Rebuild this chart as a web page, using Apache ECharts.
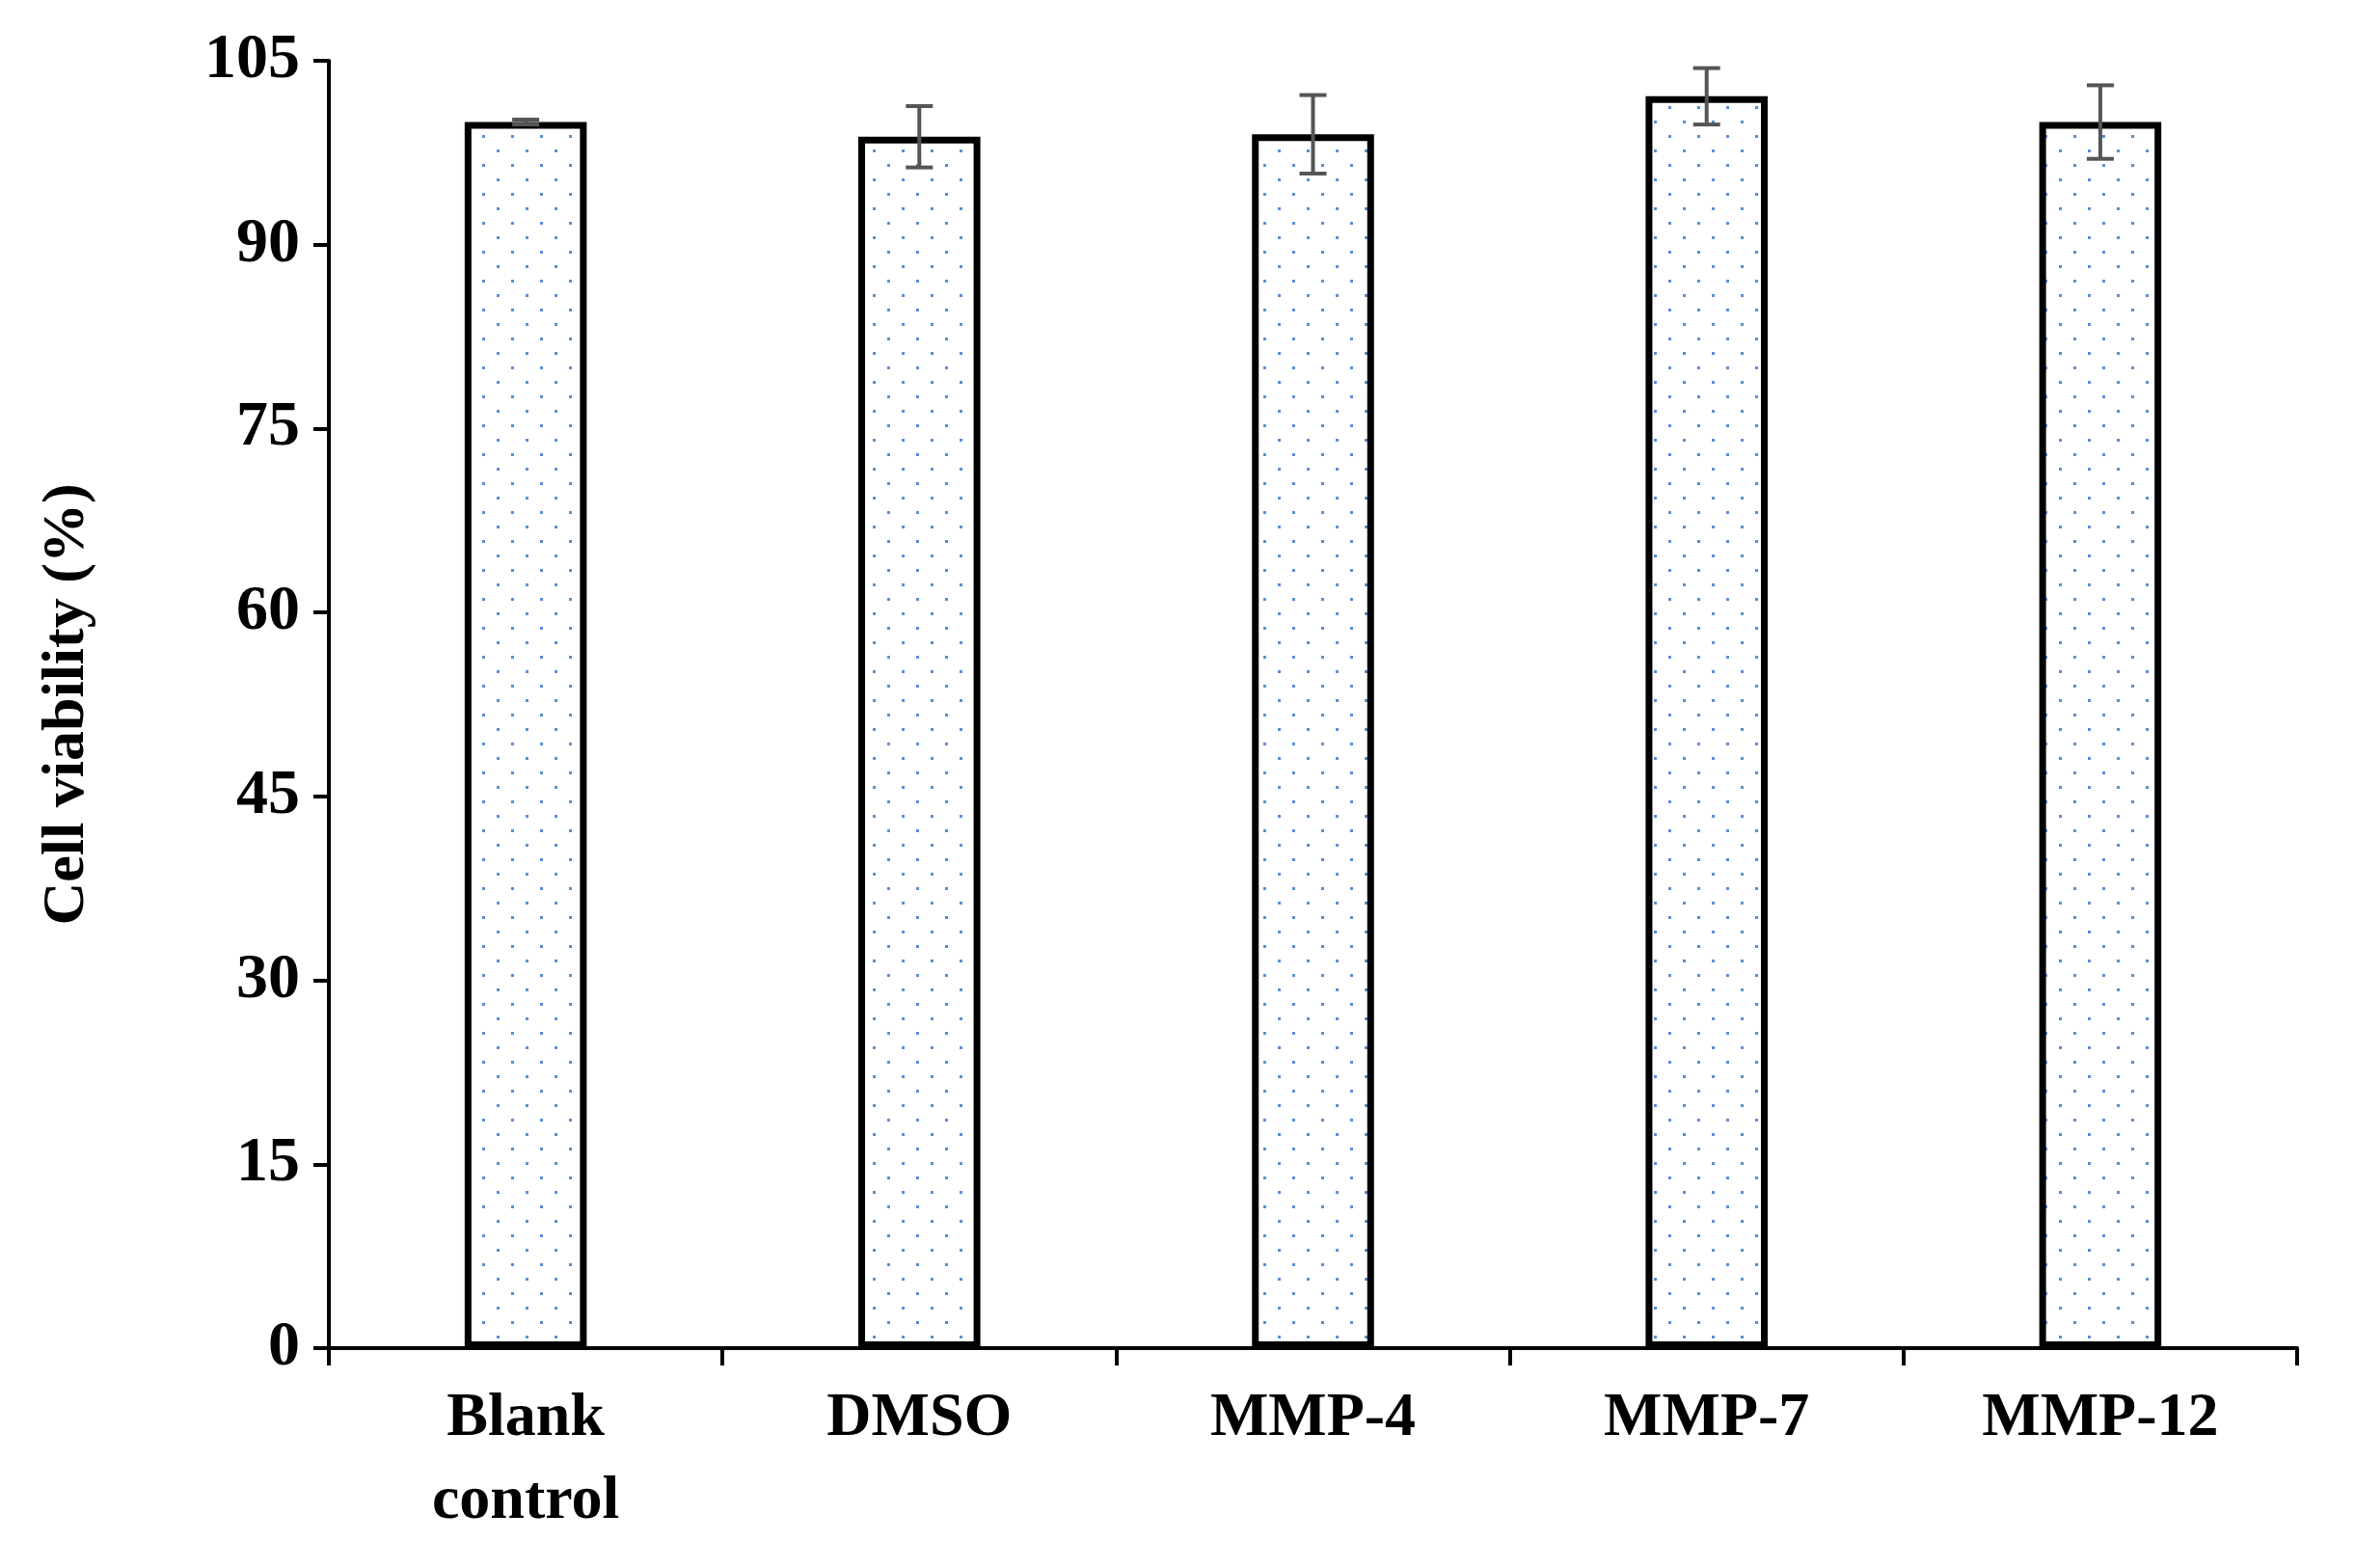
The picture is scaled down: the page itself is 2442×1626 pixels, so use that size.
<!DOCTYPE html>
<html>
<head>
<meta charset="utf-8">
<script src="https://cdn.jsdelivr.net/npm/echarts@6/dist/echarts.min.js"></script>
<style>html,body{margin:0;background:#fff}#c{width:2442px;height:1626px}</style>
</head>
<body>
<div id="c"></div>
<script>
var categories = ['Blank\ncontrol', 'DMSO', 'MMP-4', 'MMP-7', 'MMP-12'];
var values = [100, 98.8, 99, 102.1, 100];
var errors = [0.2, 2.5, 3.2, 2.3, 3.0];

// dotted fill pattern
var pat = document.createElement('canvas');
pat.width = 30; pat.height = 30;
var ctx = pat.getContext('2d');
ctx.fillStyle = '#fff';
ctx.fillRect(0, 0, 30, 30);
ctx.fillStyle = '#5b8fd6';
ctx.fillRect(5, 5, 3, 3);
ctx.fillRect(20, 20, 3, 3);

var font = '"Liberation Serif", "Times New Roman", serif';
var chart = echarts.init(document.getElementById('c'));
chart.setOption({
    animation: false,
    grid: {left: 341, right: 60, top: 63, bottom: 228},
    xAxis: {
        type: 'category',
        data: categories,
        axisLine: {lineStyle: {color: '#000', width: 4}},
        axisTick: {show: true, length: 18, lineStyle: {color: '#000', width: 4}},
        axisLabel: {color: '#000', fontFamily: font, fontWeight: 'bold', fontSize: 64, lineHeight: 86, margin: 30}
    },
    yAxis: {
        type: 'value',
        min: 0, max: 105, interval: 15,
        name: 'Cell viability (%)',
        nameLocation: 'middle',
        nameGap: 240,
        nameTextStyle: {color: '#000', fontFamily: font, fontWeight: 'bold', fontSize: 62},
        splitLine: {show: false},
        axisLine: {show: true, lineStyle: {color: '#000', width: 4}},
        axisTick: {show: true, length: 16, lineStyle: {color: '#000', width: 4}},
        axisLabel: {color: '#000', fontFamily: font, fontWeight: 'bold', fontSize: 66, margin: 30}
    },
    series: [{
        type: 'bar',
        data: values,
        barWidth: '31%',
        itemStyle: {color: {image: pat, repeat: 'repeat'}, borderColor: '#000', borderWidth: 7}
    }, {
        type: 'custom',
        data: values.map(function (v, i) { return [i, v - errors[i], v + errors[i]]; }),
        renderItem: function (params, api) {
            var lo = api.coord([api.value(0), api.value(1)]);
            var hi = api.coord([api.value(0), api.value(2)]);
            var w = 14;
            var st = {stroke: '#555', lineWidth: 4};
            return {type: 'group', children: [
                {type: 'line', shape: {x1: lo[0], y1: lo[1], x2: hi[0], y2: hi[1]}, style: st},
                {type: 'line', shape: {x1: lo[0] - w, y1: lo[1], x2: lo[0] + w, y2: lo[1]}, style: st},
                {type: 'line', shape: {x1: hi[0] - w, y1: hi[1], x2: hi[0] + w, y2: hi[1]}, style: st}
            ]};
        },
        z: 10
    }]
});
</script>
</body>
</html>
